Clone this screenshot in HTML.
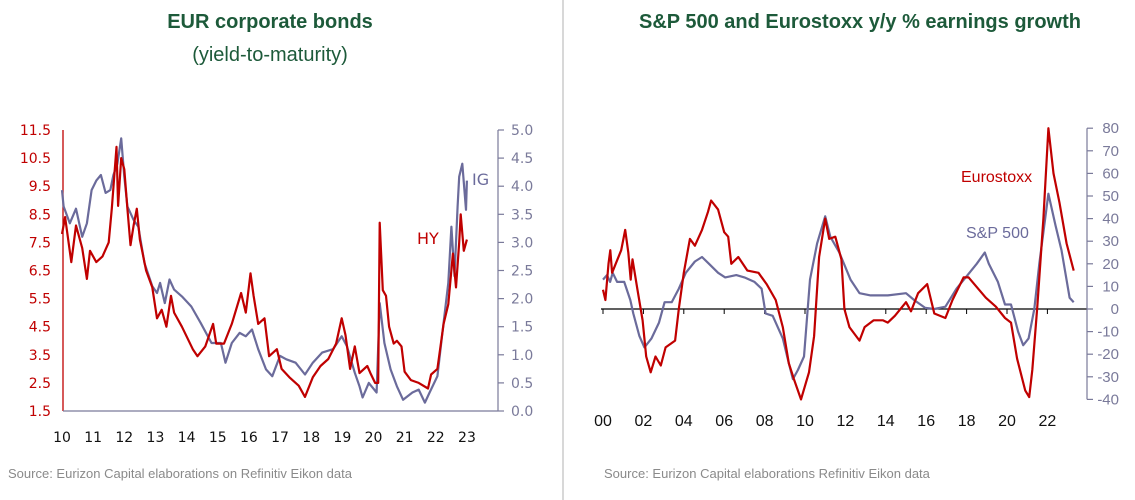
<!DOCTYPE html>
<html><head><meta charset="utf-8"><style>
html,body{margin:0;padding:0;background:#fff;}
svg{display:block;font-family:"Liberation Sans",Arial,sans-serif;}
</style></head><body>
<svg id="chart" width="1135" height="500" viewBox="0 0 1135 500">
<line x1="563" y1="0" x2="563" y2="500" stroke="#b0b0b0" stroke-width="1"/>
<text x="270" y="28" text-anchor="middle" font-size="20" font-weight="bold" fill="#1d5a3a">EUR corporate bonds</text>
<text x="270" y="61" text-anchor="middle" font-size="20" fill="#1d5a3a">(yield-to-maturity)</text>
<text x="860" y="28" text-anchor="middle" font-size="20" font-weight="bold" fill="#1d5a3a">S&amp;P 500 and Eurostoxx y/y % earnings growth</text>
<text x="8" y="478" font-size="13" fill="#8a8a8a">Source: Eurizon Capital elaborations on Refinitiv Eikon data</text>
<text x="604" y="478" font-size="13" fill="#8a8a8a">Source: Eurizon Capital elaborations Refinitiv  Eikon data</text>
<g id="left"></g>
<g id="right"></g>
</svg>
<script>
const hyYears=[10.0,10.1,10.3,10.45,10.65,10.8,10.9,11.1,11.3,11.5,11.6,11.75,11.8,11.9,12.0,12.1,12.2,12.3,12.4,12.5,12.7,12.9,13.05,13.2,13.35,13.5,13.6,13.85,14.2,14.35,14.6,14.85,14.95,15.2,15.45,15.75,15.9,16.05,16.15,16.3,16.5,16.65,16.9,17.05,17.3,17.6,17.8,18.05,18.3,18.55,18.8,18.98,19.1,19.25,19.4,19.55,19.8,19.9,20.05,20.15,20.2,20.3,20.4,20.5,20.65,20.75,20.9,21.0,21.2,21.45,21.75,21.85,22.05,22.25,22.4,22.55,22.65,22.75,22.8,22.9,23.0];
const hyValues=[7.8,8.4,6.8,8.1,7.3,6.2,7.2,6.8,7.0,7.5,8.7,10.9,8.8,10.5,10.1,8.7,7.4,8.1,8.7,7.6,6.5,5.9,4.8,5.1,4.5,5.6,5.0,4.5,3.7,3.45,3.8,4.6,3.9,3.9,4.6,5.7,5.0,6.4,5.6,4.6,4.8,3.45,3.7,3.0,2.7,2.4,2.0,2.7,3.1,3.35,3.9,4.8,4.2,3.0,3.8,2.85,3.1,2.85,2.5,2.5,8.2,5.8,5.6,4.5,3.9,4.0,3.8,2.9,2.6,2.5,2.3,2.8,3.0,4.6,5.3,7.1,5.9,7.5,8.5,7.2,7.6];
const igYears=[10.0,10.05,10.25,10.45,10.65,10.8,10.95,11.1,11.25,11.4,11.55,11.65,11.78,11.9,12.0,12.1,12.3,12.45,12.65,12.9,13.05,13.15,13.3,13.45,13.6,13.85,14.15,14.45,14.8,15.1,15.25,15.45,15.7,15.9,16.1,16.3,16.55,16.75,17.0,17.2,17.5,17.8,18.05,18.35,18.7,18.98,19.15,19.4,19.55,19.65,19.85,20.1,20.2,20.35,20.55,20.75,20.95,21.25,21.45,21.65,21.8,22.05,22.2,22.4,22.5,22.6,22.7,22.75,22.85,22.97,23.0];
const igValues=[3.93,3.64,3.34,3.6,3.1,3.34,3.93,4.1,4.2,3.88,3.93,4.2,4.4,4.85,4.17,3.64,3.4,3.28,2.63,2.22,2.1,2.28,1.92,2.34,2.16,2.04,1.86,1.57,1.21,1.21,0.86,1.21,1.39,1.33,1.45,1.1,0.74,0.62,0.98,0.92,0.86,0.65,0.86,1.04,1.1,1.33,1.15,0.68,0.44,0.24,0.5,0.33,1.92,1.21,0.74,0.44,0.2,0.33,0.38,0.15,0.33,0.62,1.33,2.28,3.28,2.4,3.64,4.17,4.4,3.58,4.1];
const leftXTicks=["10","11","12","13","14","15","16","17","18","19","20","21","22","23"];
const leftYTicks=["1.5","2.5","3.5","4.5","5.5","6.5","7.5","8.5","9.5","10.5","11.5"];
const rightYTicksL=["0.0","0.5","1.0","1.5","2.0","2.5","3.0","3.5","4.0","4.5","5.0"];

const esYears=[0,0.12,0.27,0.36,0.45,0.63,0.9,1.1,1.25,1.37,1.46,1.7,1.96,2.14,2.36,2.6,2.86,3.1,3.57,3.75,4.0,4.3,4.55,4.9,5.2,5.35,5.7,6.0,6.2,6.35,6.7,7.15,7.7,8.1,8.55,8.9,9.2,9.45,9.8,10.2,10.45,10.7,11.0,11.2,11.5,11.8,11.95,12.2,12.7,12.95,13.4,13.85,14.1,14.45,15.0,15.25,15.6,16.05,16.4,16.95,17.3,17.85,18.1,18.95,19.45,19.9,20.2,20.5,20.9,21.1,21.25,21.5,21.8,22.05,22.3,22.6,22.95,23.3];
const esValues=[8.5,4,20,26,16,20,26,35,25,13,22,9,-5,-21,-28,-21,-25,-17,-14,0,16,31,28,35,43,48,44,34,32,20,23,17,16,11,4,-8,-24,-31,-40,-28,-12,23,40,31,32,22,0,-8,-14,-8,-5,-5,-6,-3,3,-1,7,11,-2,-4,4,14,14,5,1,-4,-6,-22,-36,-39,-27,1,40,80,60,47,29,17];
const spYears=[0,0.2,0.35,0.48,0.7,1.05,1.35,1.5,1.8,2.05,2.4,2.77,3.05,3.4,3.75,4.1,4.55,4.9,5.25,5.7,6.05,6.6,7.0,7.5,7.85,8.05,8.4,8.9,9.2,9.4,9.65,9.95,10.25,10.6,11.0,11.25,11.7,12.25,12.7,13.25,14.1,15.0,15.4,15.95,16.4,16.95,17.5,18.05,18.5,18.9,19.1,19.55,19.9,20.2,20.55,20.8,21.07,21.35,21.6,22.05,22.4,22.7,23.1,23.3];
const spValues=[13,15,12,16,12,12,4,-2,-12,-17,-13,-6,3,3,9,16,21,23,20,16,14,15,14,12,9,-2,-3,-13,-24,-31,-27,-21,13,29,41,32,25,13,7,6,6,7,4,0.5,0,1,9,15,20,25,20,12,2,2,-10,-16,-13,0,20,51,37,26,5,3];
const rightXTicks=["00","02","04","06","08","10","12","14","16","18","20","22"];
const rightYTicks=["-40","-30","-20","-10","0","10","20","30","40","50","60","70","80"];

const NS="http://www.w3.org/2000/svg";
function mk(parent,tag,attrs){const e=document.createElementNS(NS,tag);for(const k in attrs)e.setAttribute(k,attrs[k]);parent.appendChild(e);return e;}

// Left chart scales
const lx=y=>62+(y-10)*31.15;
const lyL=v=>411-(v-1.5)*28.1;
const lyR=v=>411-v*56.2;
const L=document.getElementById('left');
const RED="#c00000", BLUE="#6b6b9b", AX="#7a7a9a";

let a=mk(L,'line',{x1:63,y1:130,x2:63,y2:411,stroke:RED,'stroke-width':1.3});


a=mk(L,'line',{x1:63,y1:411,x2:498,y2:411,stroke:AX,'stroke-width':1.2});


a=mk(L,'line',{x1:498,y1:130,x2:498,y2:411,stroke:AX,'stroke-width':1.2});


leftYTicks.forEach(t=>{const y=lyL(parseFloat(t));
 const e=mk(L,'text',{x:51,y:y+5,'text-anchor':'end','font-size':14,fill:RED,'font-family':'DejaVu Sans, sans-serif'});e.textContent=t;
 
 });
rightYTicksL.forEach(t=>{const y=lyR(parseFloat(t));
 const k=mk(L,'line',{x1:498,y1:y,x2:504,y2:y,stroke:AX,'stroke-width':1.2});
 
 
 const e=mk(L,'text',{x:511,y:y+5,'font-size':14,fill:AX,'font-family':'DejaVu Sans, sans-serif'});e.textContent=t;
 
 });
leftXTicks.forEach(t=>{const x=lx(parseFloat(t));
 const e=mk(L,'text',{x:x,y:442,'text-anchor':'middle','font-size':14,fill:'#111','font-family':'DejaVu Sans, sans-serif'});e.textContent=t;
 
 });
function path(xs,vs,fx,fy){return xs.map((x,i)=>(i?'L':'M')+fx(x).toFixed(1)+' '+fy(vs[i]).toFixed(1)).join(' ');}
let p=mk(L,'path',{d:path(igYears,igValues,lx,lyR),fill:'none',stroke:BLUE,'stroke-width':2.2,'stroke-linejoin':'round'});


p=mk(L,'path',{d:path(hyYears,hyValues,lx,lyL),fill:'none',stroke:RED,'stroke-width':2.2,'stroke-linejoin':'round'});


let t=mk(L,'text',{x:472,y:185,'font-size':16,fill:BLUE,'font-family':'DejaVu Sans, sans-serif'});t.textContent='IG';


t=mk(L,'text',{x:417,y:244,'font-size':16,fill:RED,'font-family':'DejaVu Sans, sans-serif'});t.textContent='HY';



// Right chart scales
const rx=y=>603+y*20.2;
const ry=v=>309-v*2.26;
const R=document.getElementById('right');
a=mk(R,'line',{x1:601,y1:ry(0),x2:1087,y2:ry(0),stroke:'#000','stroke-width':1.2});


a=mk(R,'line',{x1:1087,y1:ry(80),x2:1087,y2:ry(-40),stroke:AX,'stroke-width':1.2});


rightXTicks.forEach(s=>{const x=rx(parseFloat(s));
 const k=mk(R,'line',{x1:x,y1:ry(0),x2:x,y2:ry(0)+5,stroke:'#000','stroke-width':1});
 
 
 const e=mk(R,'text',{x:x,y:426,'text-anchor':'middle','font-size':16,fill:'#111'});e.textContent=s;
 
 });
rightYTicks.forEach(s=>{const y=ry(parseFloat(s));
 const k=mk(R,'line',{x1:1087,y1:y,x2:1093,y2:y,stroke:AX,'stroke-width':1.2});
 
 
 const e=mk(R,'text',{x:1119,y:y+5,'text-anchor':'end','font-size':15,fill:AX});e.textContent=s;
 
 });
p=mk(R,'path',{d:path(spYears,spValues,rx,ry),fill:'none',stroke:BLUE,'stroke-width':2.2,'stroke-linejoin':'round'});


p=mk(R,'path',{d:path(esYears,esValues,rx,ry),fill:'none',stroke:RED,'stroke-width':2.2,'stroke-linejoin':'round'});


t=mk(R,'text',{x:961,y:182,'font-size':16,fill:RED});t.textContent='Eurostoxx';


t=mk(R,'text',{x:966,y:238,'font-size':16,fill:BLUE});t.textContent='S&P 500';


</script>
</body></html>
